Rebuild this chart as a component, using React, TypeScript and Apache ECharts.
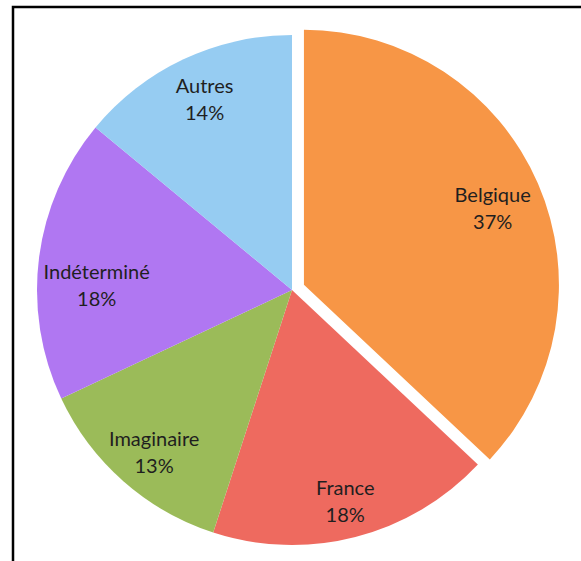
import React, { useEffect, useRef } from "react";
import * as echarts from "echarts";

const categories = ["Belgique", "France", "Imaginaire", "Indéterminé", "Autres"];
const values = [37, 18, 13, 18, 14];
const colors = ["#F79646", "#EE6A5F", "#9BBB59", "#B077F2", "#96CCF2"];
const explodedCategory = "Belgique";

// small label nudges (Excel-like placement)
const labelNudges: Record<string, [number, number]> = {
  Belgique: [-4, 6],
  France: [1, 7],
  Imaginaire: [1, 4],
  "Indéterminé": [13, 21],
  Autres: [2, -1],
};

export default function App() {
  const ref = useRef<HTMLDivElement>(null);
  useEffect(() => {
    if (!ref.current) return;
    const chart = echarts.init(ref.current, undefined, { renderer: "svg" });
    const data = categories.map((name, i) => ({
      name,
      value: values[i],
      selected: name === explodedCategory,
      itemStyle: { color: colors[i] },
    }));
    const labelData = categories.map((name, i) => {
      const offset = labelNudges[name] || [0, 0];
      return {
        name,
        value: values[i],
        selected: name === explodedCategory,
        label: { offset },
        select: { label: { offset } },
      };
    });
    chart.setOption({
      animation: false,
      backgroundColor: "#ffffff",
      graphic: [
        {
          type: "rect",
          shape: { x: 13, y: 7, width: 700, height: 700 },
          style: { fill: "none", stroke: "#000", lineWidth: 2.5 },
          z: 10,
        },
      ],
      series: [
        {
          type: "pie",
          center: [292, 290],
          radius: [0, 255],
          startAngle: 90,
          clockwise: true,
          selectedMode: "single",
          selectedOffset: 13,
          silent: true,
          label: { show: false },
          labelLine: { show: false },
          itemStyle: { borderWidth: 0 },
          emphasis: { disabled: true },
          data,
        },
        {
          type: "pie",
          center: [292, 290],
          radius: [159, 255],
          startAngle: 90,
          clockwise: true,
          selectedMode: "single",
          selectedOffset: 13,
          silent: true,
          itemStyle: { color: "rgba(0,0,0,0)", borderWidth: 0 },
          emphasis: { disabled: true },
          labelLine: { show: false },
          label: {
            show: true,
            position: "inside",
            formatter: "{b}\n{d}%",
            fontFamily: "Lato",
            fontSize: 20,
            lineHeight: 27,
            color: "#1f1f1f",
          },
          data: labelData,
        },
      ],
    });
    return () => chart.dispose();
  }, []);
  return (
    <div
      ref={ref}
      style={{ position: "absolute", left: 0, top: 0, width: 581, height: 561 }}
    />
  );
}
